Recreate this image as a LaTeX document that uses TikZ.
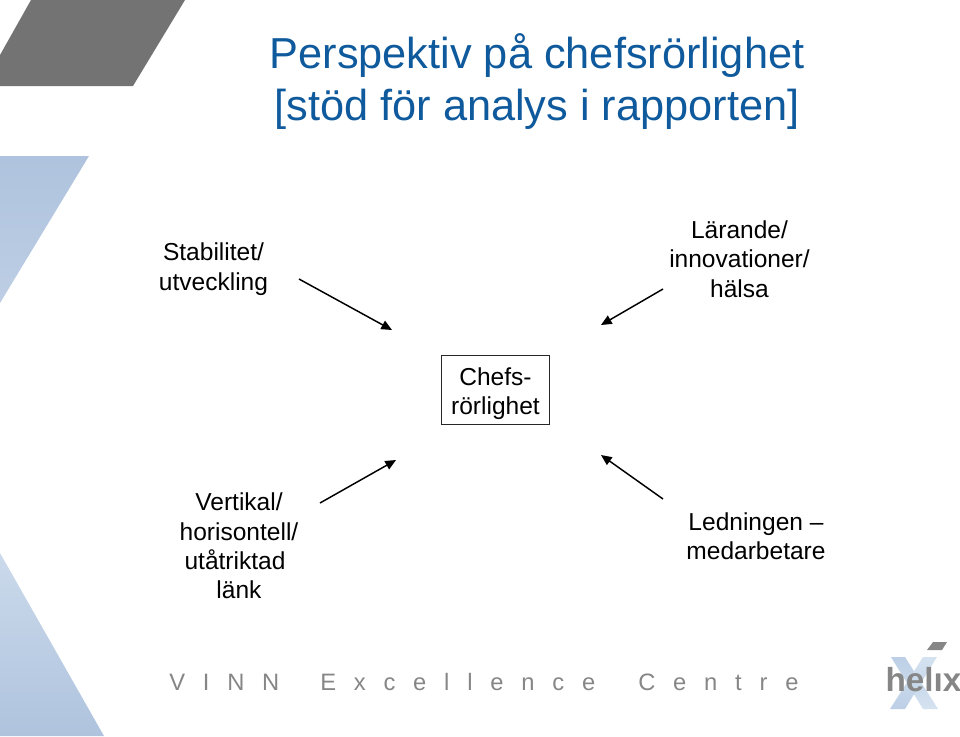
\documentclass[tikz,border=0pt]{standalone}
\usepackage{fontspec}
\setmainfont{Liberation Sans}
\newfontfamily\spacedfont[LetterSpace=75]{Liberation Sans}
\usetikzlibrary{arrows.meta}
\definecolor{titleblue}{HTML}{0F5A9C}
\definecolor{slate}{HTML}{737373}
\definecolor{paleblue}{HTML}{AFC3DE}
\definecolor{midblue}{HTML}{BDCEE4}
\definecolor{lightblue}{HTML}{CBDAEB}
\definecolor{logoblue}{HTML}{D5E2F0}
\definecolor{logotop}{HTML}{BCCFE6}
\definecolor{wordgray}{HTML}{868686}
\tikzset{
  lbl/.style={align=center,font=\fontsize{18.4pt}{22.1pt}\selectfont,inner sep=0pt,text=black},
  ttl/.style={align=center,font=\fontsize{32.5pt}{39pt}\selectfont,inner sep=0pt,text=titleblue},
  boxed/.style={draw=black!85,line width=0.85pt,minimum width=81pt,minimum height=52pt,inner sep=0pt,align=center,font=\fontsize{18.4pt}{22.1pt}\selectfont},
  link/.style={draw=black,line width=1.1pt,-{Triangle[length=8pt,width=7pt]}},
  word/.style={anchor=base west,inner sep=0pt,text=wordgray,font=\fontsize{17.8pt}{20pt}\spacedfont}
}
\begin{document}
\begin{tikzpicture}[x=0.75pt,y=-0.75pt]
\useasboundingbox (0,0) rectangle (960,736);
% decorative shapes
\fill[slate] (31,0) -- (185,0) -- (133,86) -- (0,86) -- (0,55) -- cycle;
\shade[top color=paleblue,bottom color=midblue] (0,156) -- (89,156) -- (0,303) -- cycle;
\shade[top color=lightblue,middle color=paleblue,bottom color=paleblue] (0,553) -- (104,736) -- (0,736) -- cycle;
% title
\node[ttl] (title) at (537,82) {Perspektiv på chefsrörlighet\\{[}stöd för analys i rapporten{]}};
% centre and labels
\node[boxed] (chef) at (495.5,390) {\rule{0pt}{18.5pt}Chefs-\\rörlighet};
\node[lbl] (stab) at (213.5,269) {Stabilitet/\\utveckling};
\node[lbl] (lar) at (739.5,259) {Lärande/\\innovationer/\\hälsa};
\node[lbl] (vert) at (239,546) {Vertikal/\\horisontell/\\utåtriktad\kern6pt\mbox{}\\länk};
\node[lbl] (led) at (756,536) {Ledningen –\\medarbetare};
% arrows
\coordinate (a1s) at (299,279); \coordinate (a1e) at (392,330);
\coordinate (a2s) at (663,289); \coordinate (a2e) at (601,325);
\coordinate (a3s) at (320,503); \coordinate (a3e) at (396,460);
\coordinate (a4s) at (663,499); \coordinate (a4e) at (601,455);
\draw[link] (a1s) -- (a1e);
\draw[link] (a2s) -- (a2e);
\draw[link] (a3s) -- (a3e);
\draw[link] (a4s) -- (a4e);
% footer
\node[word] (w1) at (169,690) {VINN};
\node[word] (w2) at (320,690) {Excellence};
\node[word] (w3) at (638,690) {Centre};
% logo
\shade[top color=logotop,bottom color=logoblue] (891,657) -- (905,657) -- (938,709) -- (923,709) -- cycle;
\shade[top color=logoblue,bottom color=logotop] (923,657) -- (937,657) -- (905,709) -- (890,709) -- cycle;
\fill[wordgray] (933,642) -- (947,642) -- (942,650) -- (927,650) -- cycle;
\node[anchor=base,inner sep=0pt,text=wordgray,font=\fontsize{25pt}{25pt}\bfseries] (helix) at (923.5,691) {helıx};
\end{tikzpicture}
\end{document}
